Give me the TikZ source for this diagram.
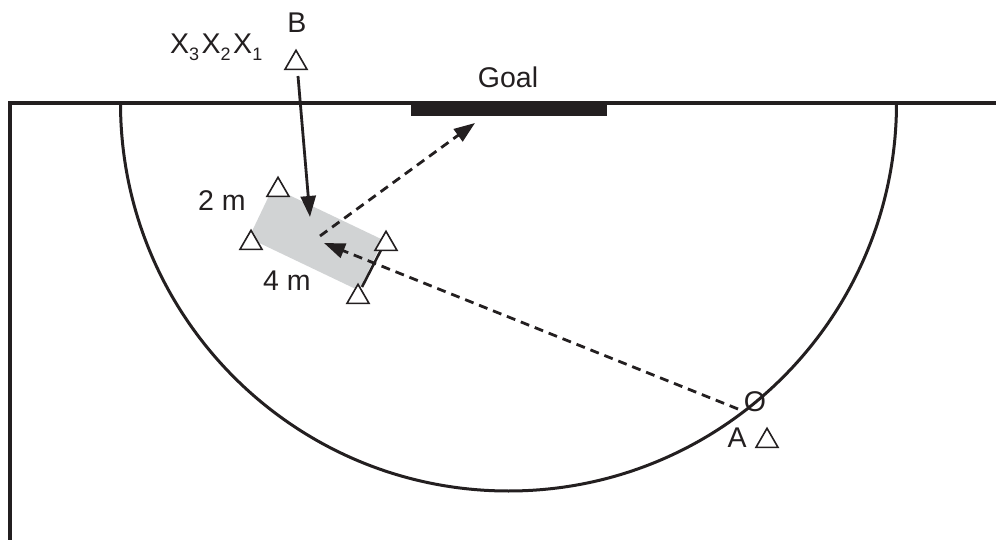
\documentclass[tikz,border=0pt]{standalone}
\usepackage{fontspec}
\setmainfont{Liberation Sans}
\usetikzlibrary{arrows.meta,shapes.geometric}
\definecolor{boxgray}{RGB}{209,211,212}
\definecolor{ink}{RGB}{35,31,32}
\newcommand\subdig[1]{\raisebox{-7pt}{\fontsize{18}{18}\selectfont #1}}
\begin{document}
\begin{tikzpicture}[x=1pt,y=-1pt,
  lbl/.style={font=\fontsize{28.5}{30}\selectfont, inner sep=0pt, text=ink},
  tri/.style={regular polygon, regular polygon sides=3, draw=ink, line width=1.6pt,
              minimum size=25.4pt, inner sep=0pt, fill=white},
  mainline/.style={draw=ink, line width=3.2pt},
  arr/.style={draw=ink, line width=2.8pt, -{Triangle[length=21pt,width=15pt]}},
  dsh/.style={arr, dash pattern=on 9pt off 6pt}]
\useasboundingbox (0,0) rectangle (996,540);
% gray zone
\fill[boxgray] (273,187.4) -- (383.2,240) -- (359,290.6) -- (248.8,238) -- cycle;
% field lines
\draw[mainline, line join=miter] (10,540) -- (10,103) -- (996,103);
\draw[mainline, line width=3pt] (120.5,103) arc[start angle=180, end angle=0, radius=388];
\fill[ink] (411,103) rectangle (607,116);
% labels
\node[lbl, anchor=base] (goal) at (508,88) {Goal};
\node[lbl, anchor=base] (B) at (297,33) {B};
\node[lbl, anchor=base west] (X) at (170,54) {X\subdig{3}\hspace{2.5pt}X\subdig{2}\hspace{2.5pt}X\subdig{1}};
\node[lbl, anchor=base] (two) at (222,211) {2 m};
\node[lbl, anchor=base] (four) at (287,290) {4 m};
\node[lbl, anchor=base] (A) at (737,447) {A};
\node[lbl] (O) at (755,402) {O};
% connector end points
\coordinate (bStart) at (298,76);
\coordinate (bEnd) at (310,217);
\coordinate (oStart) at (738,409);
\coordinate (midTip) at (324,243);
\coordinate (gStart) at (320,236);
\coordinate (gTip) at (475,123);
\coordinate (sStart) at (381,250);
\coordinate (sEnd) at (362,287);
% connectors
\draw[arr] (bStart) -- (bEnd);
\draw[dsh] (oStart) -- (midTip);
\draw[dsh] (gStart) -- (gTip);
\draw[mainline, line width=2.6pt] (sStart) -- (sEnd);
% cones
\node[tri] (tB) at (296,63) {};
\node[tri] (t1) at (278,190) {};
\node[tri] (t2) at (251,243) {};
\node[tri] (t3) at (386,244) {};
\node[tri] (t4) at (358,297) {};
\node[tri] (tA) at (767,441) {};
\end{tikzpicture}
\end{document}
